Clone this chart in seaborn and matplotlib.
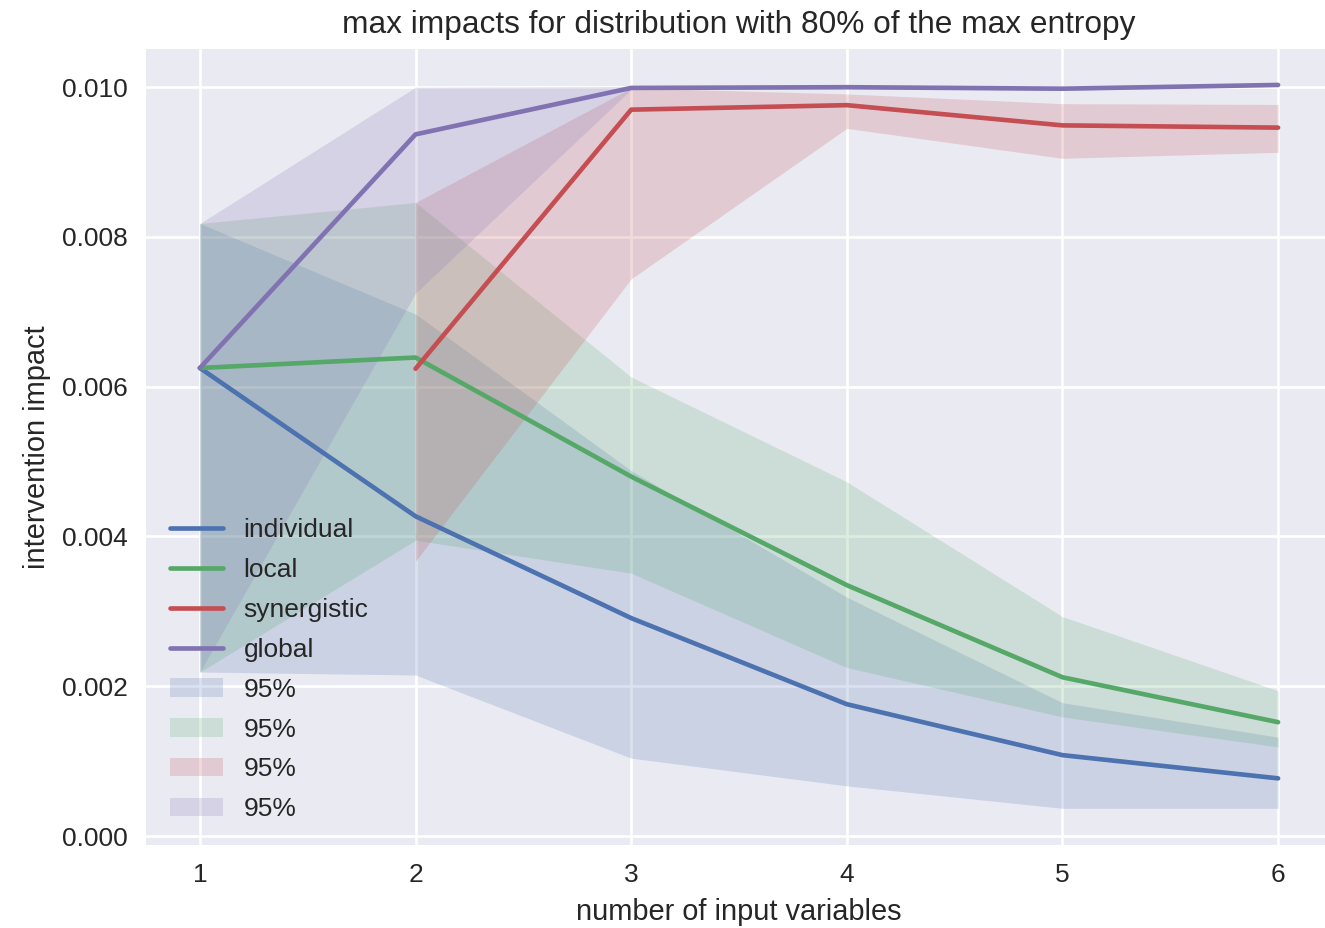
#!/usr/bin/env python3

from matplotlib import pyplot as plt
import pandas as pd
import seaborn as sns

n_vars = [1, 2, 3, 4, 5, 6]

individual = [0.00625, 0.00427, 0.00291, 0.00176, 0.00108, 0.00077]
individual_lo = [0.00219, 0.00215, 0.00104, 0.00067, 0.00037, 0.00037]
individual_hi = [0.00818, 0.00697, 0.00488, 0.00319, 0.00178, 0.00132]

local = [0.00625, 0.00639, 0.00480, 0.00335, 0.00212, 0.00152]
local_lo = [0.00219, 0.00395, 0.00351, 0.00225, 0.00159, 0.00119]
local_hi = [0.00818, 0.00846, 0.00613, 0.00473, 0.00293, 0.00194]

# synergistic only exists from 2 input variables on
syn_vars = [2, 3, 4, 5, 6]
synergistic = [0.00624, 0.00970, 0.00976, 0.00949, 0.00946]
synergistic_lo = [0.00367, 0.00744, 0.00945, 0.00905, 0.00913]
synergistic_hi = [0.00846, 0.00999, 0.00991, 0.00978, 0.00977]

global_ = [0.00625, 0.00937, 0.00999, 0.01000, 0.00998, 0.01003]
global_lo = [0.00219, 0.00725, 0.00997, 0.00998, 0.00996, 0.01001]
global_hi = [0.00818, 0.01000, 0.01001, 0.01002, 0.01000, 0.01004]

colors = ["#4C72B0", "#55A868", "#C44E52", "#8172B2"]

series = [
    ("individual", n_vars, individual, individual_lo, individual_hi),
    ("local", n_vars, local, local_lo, local_hi),
    ("synergistic", syn_vars, synergistic, synergistic_lo, synergistic_hi),
    ("global", n_vars, global_, global_lo, global_hi),
]

plt.style.use("seaborn-v0_8")
plt.rcParams["font.family"] = ["Liberation Sans", "DejaVu Sans"]

dpi = 190
fig = plt.figure(figsize=(1325 / dpi, 928 / dpi), dpi=dpi)
ax = fig.add_axes([146 / 1325, 83 / 928, 1186 / 1325, 796 / 928])

for (name, xs, ys, lo, hi), c in zip(series, colors):
    df = pd.DataFrame({"x": xs, "y": ys})
    sns.lineplot(data=df, x="x", y="y", color=c, label=name, ax=ax,
                 linewidth=1.75)

for (name, xs, ys, lo, hi), c in zip(series, colors):
    ax.fill_between(xs, lo, hi, color=c, alpha=0.2, linewidth=0, label="95%")

ax.set_xlim(0.75, 6.25)
ax.set_ylim(-0.00012, 0.01051)
ax.set_xticks(n_vars)
ax.set_yticks([0.0, 0.002, 0.004, 0.006, 0.008, 0.010])
ax.set_yticklabels(["0.000", "0.002", "0.004", "0.006", "0.008", "0.010"])
ax.set_xlabel("number of input variables")
ax.set_ylabel("intervention impact")
ax.set_title("max impacts for distribution with 80% of the max entropy")
ax.legend(loc="lower left", frameon=False, labelspacing=0.6)

plt.savefig("out.png", dpi=dpi)
